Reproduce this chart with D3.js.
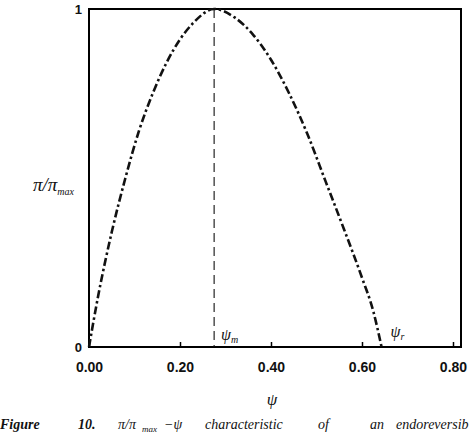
<!DOCTYPE html>
<html><head><meta charset="utf-8">
<script src="https://cdn.jsdelivr.net/npm/d3@7"></script>
<style>body{margin:0;background:#fff}svg{display:block}</style>
</head><body>
<svg id="c" width="476" height="436"></svg>
<script>
const psi = [0, 0.02, 0.05, 0.08, 0.11, 0.14, 0.17, 0.2, 0.23, 0.275, 0.32, 0.36, 0.40, 0.44, 0.48, 0.52, 0.56, 0.60, 0.625, 0.643];
const power = [0, 0.15, 0.34, 0.5, 0.64, 0.75, 0.84, 0.91, 0.96, 1, 0.975, 0.925, 0.85, 0.75, 0.63, 0.49, 0.35, 0.205, 0.105, 0];
const xTicks = [0, 0.2, 0.4, 0.6, 0.8];
const xTickLabels = ["0.00", "0.20", "0.40", "0.60", "0.80"];
const yTicks = [0, 1];
const yTickLabels = ["0", "1"];
const psiM = 0.275;
const psiR = 0.643;

const svg = d3.select("#c");
const xMax = 0.8176;
const x = d3.scaleLinear().domain([0, xMax]).range([89, 461]);
const y = d3.scaleLinear().domain([0, 1]).range([347, 9]);

// frame
const frame = [[0, 0, 0, 1], [0, 1, xMax, 1], [xMax, 1, xMax, 0], [xMax, 0, 0, 0]];
svg.selectAll("line.frame").data(frame).join("line").attr("class", "frame")
  .attr("x1", d => x(d[0])).attr("y1", d => y(d[1])).attr("x2", d => x(d[2])).attr("y2", d => y(d[3]))
  .attr("stroke", "#000").attr("stroke-width", 2).attr("stroke-linecap", "square");

// x axis ticks (inner)
const xa = d3.axisBottom(x).tickValues(xTicks).tickSize(-5).tickFormat((d, i) => xTickLabels[i]).tickPadding(15);
const gx = svg.append("g").attr("transform", `translate(0,${y(0)})`).call(xa);
gx.select(".domain").remove();
gx.selectAll(".tick line").attr("stroke", "#000").attr("stroke-width", 1.5);
gx.selectAll("text").attr("font-family", "Liberation Sans, Arial, sans-serif").attr("font-weight", "bold")
  .attr("font-size", 14).attr("fill", "#111");

const ya = d3.axisLeft(y).tickValues(yTicks).tickSize(0).tickFormat((d, i) => yTickLabels[i]).tickPadding(7);
const gy = svg.append("g").attr("transform", `translate(${x(0)},0)`).call(ya);
gy.select(".domain").remove();
gy.selectAll("text").attr("font-family", "Liberation Sans, Arial, sans-serif").attr("font-weight", "bold")
  .attr("font-size", 13).attr("fill", "#111");

// dashed vertical at psi_m
svg.append("line").attr("x1", x(psiM)).attr("x2", x(psiM)).attr("y1", y(1)).attr("y2", y(0))
  .attr("stroke", "#111").attr("stroke-width", 1.1).attr("stroke-dasharray", "9,5");

// curve
const line = d3.line().x((d, i) => x(psi[i])).y((d, i) => y(power[i])).curve(d3.curveMonotoneX);
svg.append("path").datum(power).attr("d", line).attr("fill", "none").attr("stroke", "#111")
  .attr("stroke-width", 2.6).attr("stroke-dasharray", "8,3,2.5,3");

// labels
const serif = "Liberation Serif, Times New Roman, serif";
const lm = svg.append("text").attr("x", x(psiM) + 7).attr("y", 340).attr("font-family", serif).attr("font-style", "italic").attr("font-size", 16).attr("fill", "#111");
lm.append("tspan").text("ψ");
lm.append("tspan").attr("dy", 3).attr("font-size", 10).text("m");
const lr = svg.append("text").attr("x", x(psiR) + 9).attr("y", 337).attr("font-family", serif).attr("font-style", "italic").attr("font-size", 16).attr("fill", "#111");
lr.append("tspan").text("ψ");
lr.append("tspan").attr("dy", 3).attr("font-size", 10).text("r");

svg.append("text").attr("x", 272).attr("y", 405).attr("text-anchor", "middle").attr("font-family", serif)
  .attr("font-style", "italic").attr("font-size", 17).attr("fill", "#111").text("ψ");

const yl = svg.append("text").attr("x", 33).attr("y", 191).attr("font-family", serif).attr("font-style", "italic")
  .attr("font-size", 19).attr("fill", "#111");
yl.append("tspan").text("π/π");
yl.append("tspan").attr("dy", 4).attr("font-size", 10).text("max");

// caption
const cap = [["Figure", 0, true], ["10.", 78, true], ["π/π", 118, false], ["max", 142, false, true], ["−ψ", 164, false],
  ["characteristic", 205, false], ["of", 318, false], ["an", 370, false], ["endoreversib", 396, false]];
cap.forEach(c => {
  svg.append("text").attr("x", c[1]).attr("y", c[3] ? 432 : 429).attr("font-family", serif).attr("font-style", "italic")
    .attr("font-weight", c[2] ? "bold" : "normal").attr("font-size", c[3] ? 9 : 14).attr("fill", "#111").text(c[0]);
});
</script>
</body></html>
